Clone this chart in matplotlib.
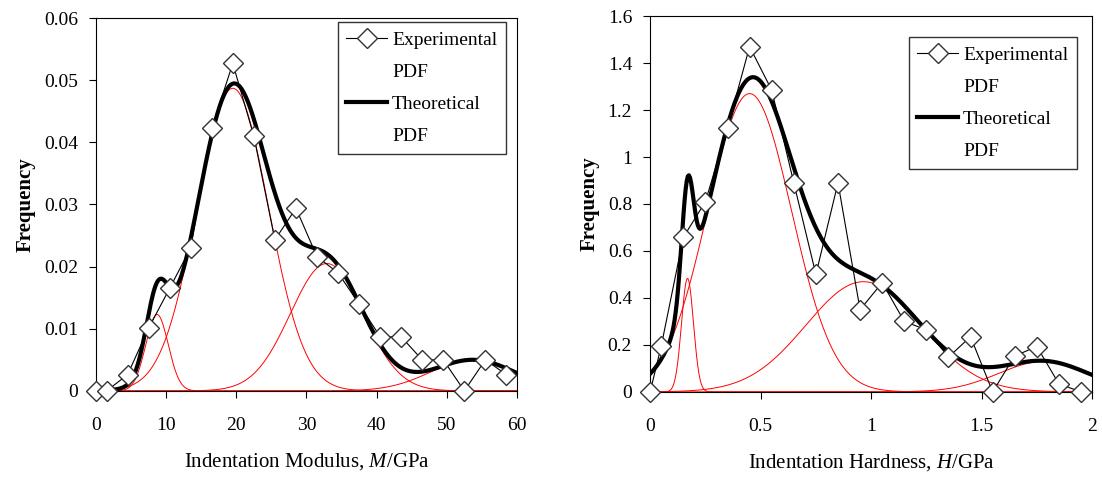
import numpy as np
from matplotlib import pyplot as plt
from matplotlib.lines import Line2D
from matplotlib.ticker import FuncFormatter

# experimental PDF, indentation modulus
mod_x = [0, 1.5, 4.5, 7.5, 10.5, 13.5, 16.5, 19.5, 22.5, 25.5, 28.5, 31.5, 34.5,
         37.5, 40.5, 43.5, 46.5, 49.5, 52.5, 55.5, 58.5]
mod_freq = [0, 0, 0.0026, 0.0101, 0.0165, 0.023, 0.0423, 0.0527, 0.041, 0.0243,
            0.0294, 0.0216, 0.019, 0.014, 0.0087, 0.0087, 0.005, 0.005, 0, 0.005, 0.0026]
# fitted gaussian phases (mean, std, peak height)
mod_mean = [8.7, 19.5, 32.9, 53.7]
mod_std = [1.6, 5.1, 5.2, 6.0]
mod_peak = [0.0123, 0.0487, 0.0205, 0.005]

# experimental PDF, indentation hardness
hard_x = [0, 0.05, 0.15, 0.25, 0.35, 0.45, 0.55, 0.65, 0.75, 0.85, 0.95, 1.05,
          1.15, 1.25, 1.35, 1.45, 1.55, 1.65, 1.75, 1.85, 1.95]
hard_freq = [0, 0.195, 0.658, 0.81, 1.125, 1.47, 1.285, 0.89, 0.50, 0.89, 0.35,
             0.465, 0.30, 0.264, 0.148, 0.235, 0, 0.153, 0.193, 0.034, 0]
hard_mean = [0.169, 0.45, 0.965, 1.78]
hard_std = [0.027, 0.19, 0.26, 0.204]
hard_peak = [0.484, 1.27, 0.469, 0.129]

plt.rcParams['font.family'] = 'Liberation Serif'
plt.rcParams['mathtext.fontset'] = 'custom'
plt.rcParams['mathtext.rm'] = 'Liberation Serif'
plt.rcParams['mathtext.it'] = 'Liberation Serif:italic'

fig = plt.figure(figsize=(11.02, 4.88), dpi=100)
ax1 = fig.add_axes([0.0871, 0.199, 0.382, 0.764])
ax2 = fig.add_axes([0.590, 0.197, 0.401, 0.770])


def draw(ax, x, freq, means, stds, peaks, xmax, anchor):
    grid = np.linspace(0, xmax, 400)
    total = np.zeros_like(grid)
    for m, s, p in zip(means, stds, peaks):
        comp = p * np.exp(-0.5 * ((grid - m) / s) ** 2)
        total += comp
        ax.plot(grid, comp, color='red', lw=0.7, zorder=2)
    exp_line, = ax.plot(x, freq, color='black', lw=0.8, marker='D', markersize=10,
                        markerfacecolor='white', markeredgecolor='#333333',
                        markeredgewidth=1, clip_on=False, zorder=4)
    theo_line, = ax.plot(grid, total, color='black', lw=3, zorder=3)
    ax.set_xlim(0, xmax)
    fmt = FuncFormatter(lambda v, pos: '%g' % round(v, 3))
    ax.xaxis.set_major_formatter(fmt)
    ax.yaxis.set_major_formatter(fmt)
    ax.tick_params(axis='x', labelsize=14, length=5, pad=14)
    ax.tick_params(axis='y', labelsize=14, length=5, pad=8)
    ax.set_ylabel('Frequency', fontsize=15, fontweight='bold', labelpad=6)
    blank = Line2D([], [], color='none')
    leg = ax.legend([exp_line, blank, theo_line, blank],
                    ['Experimental', 'PDF', 'Theoretical', 'PDF'],
                    loc='upper right', bbox_to_anchor=anchor, borderaxespad=0,
                    fontsize=14, frameon=True, fancybox=False, edgecolor='black',
                    handlelength=2.1, labelspacing=0.75, handletextpad=0.25,
                    borderpad=0.45)
    leg.get_frame().set_linewidth(1)


draw(ax1, mod_x, mod_freq, mod_mean, mod_std, mod_peak, 60, (0.974, 0.989))
ax1.set_ylim(0, 0.06)
ax1.set_xticks(np.arange(0, 61, 10))
ax1.set_yticks(np.arange(0, 0.061, 0.01))
ax1.set_xlabel('Indentation Modulus, $M$/GPa', fontsize=15, labelpad=12)

draw(ax2, hard_x, hard_freq, hard_mean, hard_std, hard_peak, 2, (0.966, 0.944))
ax2.set_ylim(0, 1.6)
ax2.set_xticks(np.arange(0, 2.01, 0.5))
ax2.set_yticks(np.arange(0, 1.61, 0.2))
ax2.set_xlabel('Indentation Hardness, $H$/GPa', fontsize=15, labelpad=12)

plt.savefig('out.png', dpi=100)
